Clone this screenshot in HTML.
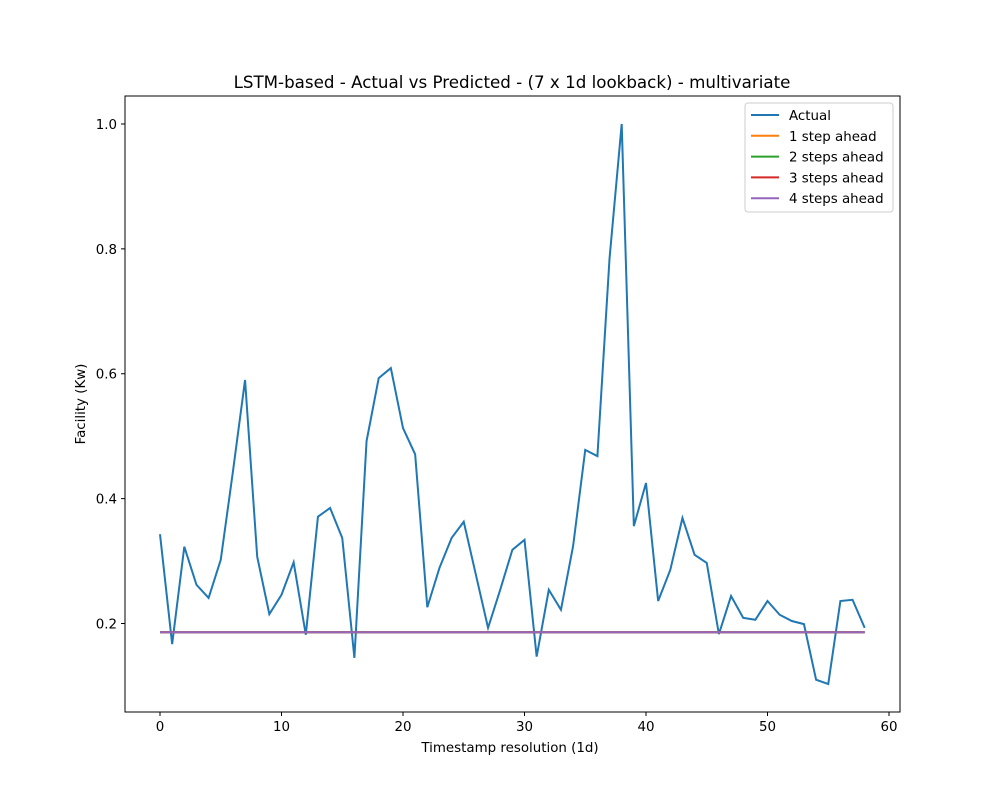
<!DOCTYPE html>
<html><head><meta charset="utf-8"><style>
body{margin:0;background:#fff}
svg text{font-family:"DejaVu Sans","Liberation Sans",sans-serif;fill:#000}
</style></head><body>
<svg id="chart" width="1000" height="800">
<rect width="1000" height="800" fill="#fff"/>
<text x="512" y="88" font-size="16.7" text-anchor="middle">LSTM-based - Actual vs Predicted - (7 x 1d lookback) - multivariate</text>
<g id="plot"></g>
<rect x="125" y="96" width="775" height="616" fill="none" stroke="#000" stroke-width="1"/>
<text x="510" y="752" font-size="13.4" text-anchor="middle">Timestamp resolution (1d)</text>
<text transform="translate(85,404) rotate(-90)" font-size="13.4" text-anchor="middle">Facility (Kw)</text>
<g>
<rect x="745" y="103" width="148" height="109" rx="3" fill="#fff" fill-opacity="0.8" stroke="#ccc"/>
<g id="legend"></g>
</g>
</svg>
<script>
const actual=[0.343,0.167,0.323,0.262,0.241,0.302,0.443,0.590,0.307,0.215,0.246,0.298,0.182,0.371,0.385,0.337,0.145,0.492,0.593,0.609,0.513,0.471,0.226,0.289,0.337,0.363,0.278,0.193,0.254,0.318,0.334,0.147,0.254,0.222,0.324,0.478,0.468,0.785,1.0,0.356,0.425,0.236,0.286,0.369,0.310,0.297,0.183,0.244,0.209,0.206,0.236,0.214,0.204,0.199,0.110,0.103,0.236,0.238,0.193];
const pred1=Array(59).fill(0.186);
const pred2=Array(59).fill(0.186);
const pred3=Array(59).fill(0.186);
const pred4=Array(59).fill(0.186);
const xTicks=[0,10,20,30,40,50,60];
const yTicks=[0.2,0.4,0.6,0.8,1.0];
const seriesNames=["Actual","1 step ahead","2 steps ahead","3 steps ahead","4 steps ahead"];
const colors=["#1f77b4","#ff7f0e","#2ca02c","#d62728","#9467bd"];
const X=v=>160+v*(729/60);
const Y=v=>623.5-(v-0.2)*624.4;
const NS="http://www.w3.org/2000/svg";
const plot=document.getElementById('plot');
function mk(t,a,p){const e=document.createElementNS(NS,t);for(const k in a)e.setAttribute(k,a[k]);(p||plot).appendChild(e);return e;}
xTicks.forEach(t=>{
 const l=mk('line',{x1:X(t),x2:X(t),y1:712,y2:716,stroke:'#000'});
 
 
 const s=mk('text',{x:X(t),y:731,'font-size':13.4,'text-anchor':'middle'});s.textContent=t;
 
 
});
yTicks.forEach(t=>{
 const l=mk('line',{x1:121,x2:125,y1:Y(t),y2:Y(t),stroke:'#000'});
 
 
 const s=mk('text',{x:117,y:Y(t)+5,'font-size':13.4,'text-anchor':'end'});s.textContent=t.toFixed(1);
 
 
});
[actual,pred1,pred2,pred3,pred4].forEach((d,i)=>{
 const p=mk('polyline',{points:d.map((v,j)=>X(j)+','+Y(v)).join(' '),fill:'none',stroke:colors[i],'stroke-width':2});
 
 
});
const lg=document.getElementById('legend');
seriesNames.forEach((n,i)=>{
 const y=115+i*20.8;
 const g=mk('g',{},lg);
 
 
 mk('line',{x1:751,x2:779,y1:y,y2:y,stroke:colors[i],'stroke-width':2},g);
 const t=mk('text',{x:789,y:y+5,'font-size':13.4},g);t.textContent=n;
});
</script>
</body></html>
